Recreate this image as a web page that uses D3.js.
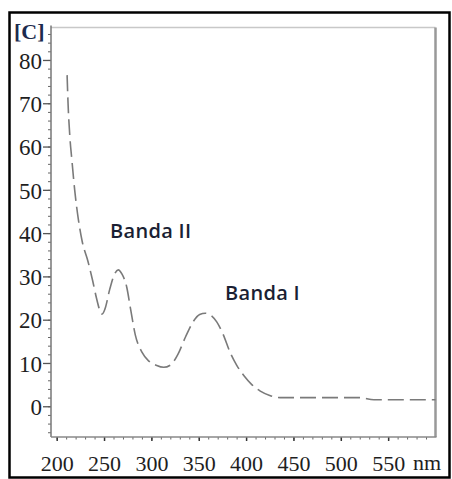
<!DOCTYPE html>
<html>
<head>
<meta charset="utf-8">
<script src="https://cdn.jsdelivr.net/npm/d3@7"></script>
<style>
  body { margin: 0; background: #fff; }
  svg { display: block; }
</style>
</head>
<body>
<div id="container"></div>
<script>
// spectrum
var wavelength = [211, 212, 214, 216, 219, 223, 227, 233, 238, 242, 245, 248, 251, 256, 261, 265, 269, 274, 278, 283, 290, 297, 305, 313, 320, 328, 336, 344, 351, 357, 363, 369, 376, 383, 390, 398, 406, 415, 425, 436, 460, 490, 520, 535, 560, 600];
var conc = [76.5, 70, 62, 57, 50, 43, 38, 33.5, 29, 25, 22.5, 21.3, 22.5, 27, 30.5, 31.5, 30.5, 27.5, 22.5, 16.5, 12.5, 10.5, 9.5, 9, 9.5, 12, 16, 19.5, 21.2, 21.5, 21, 19.5, 16.5, 12.5, 9.5, 7, 5, 3.5, 2.5, 2, 2, 2, 2, 1.5, 1.5, 1.5];

var xTicks = [200, 250, 300, 350, 400, 450, 500, 550];
var yTicks = [0, 10, 20, 30, 40, 50, 60, 70, 80];
var bands = [
  {label: "Banda II", x: 110, y: 238},
  {label: "Banda I", x: 225, y: 300}
];

var w = 452, h = 479;
var svg = d3.select("#container").append("svg")
    .attr("width", w).attr("height", h);

// outer frame
svg.append("rect")
    .attr("x", 9.5).attr("y", 12.5)
    .attr("width", 440).attr("height", 465)
    .attr("fill", "none").attr("stroke", "#000").attr("stroke-width", 2.5);

var pLeft = 51, pRight = 435.5, pTop = 27.5, pBottom = 437;

var x = d3.scaleLinear().domain([194, 600]).range([pLeft, pRight]);
var y = d3.scaleLinear().domain([-7.1, 87.5]).range([pBottom, pTop]);

// plot box: light top, darker right
svg.append("line")
    .attr("x1", pLeft).attr("x2", pRight).attr("y1", pTop).attr("y2", pTop)
    .attr("stroke", "#c8c8c8").attr("stroke-width", 1.5);
svg.append("line")
    .attr("x1", pRight).attr("x2", pRight).attr("y1", pTop).attr("y2", pBottom)
    .attr("stroke", "#999").attr("stroke-width", 2.5);

// y axis with minor ticks every 2
var yMinor = d3.range(-6, 87, 2);
var gy = svg.append("g").attr("transform", "translate(" + pLeft + ",0)");
gy.call(d3.axisLeft(y).tickValues(yMinor).tickSize(3).tickFormat(""));
gy.selectAll("line").attr("stroke", "#666");
gy.select(".domain").remove();
var gyMaj = svg.append("g").attr("transform", "translate(" + pLeft + ",0)");
gyMaj.call(d3.axisLeft(y).tickValues(yTicks).tickSize(8).tickPadding(1));
gyMaj.select(".domain").remove();
gyMaj.selectAll("line").attr("stroke", "#555").attr("stroke-width", 1.3);
gyMaj.selectAll("text")
    .attr("font-family", "'Liberation Serif', serif")
    .attr("font-size", 23).attr("fill", "#1e1e1e")
    .attr("dy", "0.36em");
svg.append("line")
    .attr("x1", pLeft).attr("x2", pLeft).attr("y1", pTop - 2).attr("y2", pBottom)
    .attr("stroke", "#777").attr("stroke-width", 1.5);

// x axis with minor ticks every 10
var xMinor = d3.range(200, 600, 10);
var gx = svg.append("g").attr("transform", "translate(0," + pBottom + ")");
gx.call(d3.axisBottom(x).tickValues(xMinor).tickSize(2.5).tickFormat(""));
gx.select(".domain").remove();
gx.selectAll("line").attr("stroke", "#666");
var gxMaj = svg.append("g").attr("transform", "translate(0," + pBottom + ")");
gxMaj.call(d3.axisBottom(x).tickValues(xTicks).tickSize(4).tickPadding(14));
gxMaj.select(".domain").remove();
gxMaj.selectAll("line").attr("stroke", "#333").attr("stroke-width", 1.5);
gxMaj.selectAll("text")
    .attr("font-family", "'Liberation Serif', serif")
    .attr("font-size", 22).attr("fill", "#1e1e1e");
svg.append("line")
    .attr("x1", pLeft).attr("x2", pRight + 1).attr("y1", pBottom).attr("y2", pBottom)
    .attr("stroke", "#888").attr("stroke-width", 1.5);

svg.append("text")
    .attr("x", 413).attr("y", 470)
    .attr("font-family", "'Liberation Serif', serif")
    .attr("font-size", 22).attr("fill", "#1e1e1e")
    .text("nm");

svg.append("text")
    .attr("x", 14).attr("y", 39)
    .attr("font-family", "'Liberation Serif', serif")
    .attr("font-size", 22).attr("font-weight", "bold").attr("fill", "#1c2b4e")
    .text("[C]");

// dashed spectrum
var line = d3.line()
    .x(function(d, i) { return x(wavelength[i]); })
    .y(function(d) { return y(d); })
    .curve(d3.curveMonotoneX);
svg.append("path")
    .datum(conc)
    .attr("d", line)
    .attr("fill", "none")
    .attr("stroke", "#7a7a7a")
    .attr("stroke-width", 1.6)
    .attr("stroke-dasharray", "16,6");

svg.selectAll(".band")
  .data(bands)
  .enter().append("text")
    .attr("class", "band")
    .attr("x", function(d) { return d.x; })
    .attr("y", function(d) { return d.y; })
    .attr("font-family", "'Open Sans', sans-serif")
    .attr("font-size", 20)
    .attr("font-weight", 600)
    .attr("letter-spacing", 0.3)
    .attr("fill", "#1a1f33")
    .text(function(d) { return d.label; });
</script>
</body>
</html>
